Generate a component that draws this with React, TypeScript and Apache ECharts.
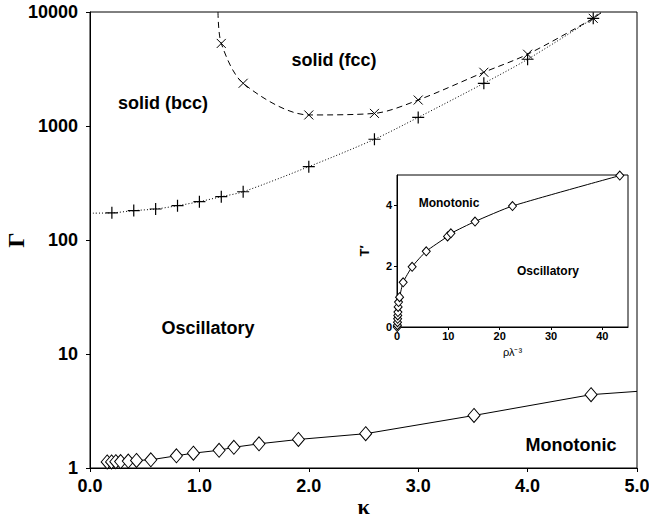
import React, { useEffect, useRef } from "react";
import * as echarts from "echarts";

// Melting line (fluid - solid), "+" markers
const meltKappa = [0.2, 0.4, 0.6, 0.8, 1.0, 1.2, 1.4, 2.0, 2.6, 3.0, 3.6, 4.0, 4.6];
const meltGamma = [173, 181, 187, 200, 217, 240, 265, 440, 765, 1190, 2370, 3850, 8800];
const meltStart = [0, 172];
const meltEnd = [4.68, 10000];

// bcc - fcc boundary, "x" markers
const fccKappa = [1.2, 1.4, 2.0, 2.6, 3.0, 3.6, 4.0, 4.6];
const fccGamma = [5300, 2370, 1250, 1290, 1690, 2960, 4260, 8800];
const fccStart = [1.17, 10000];
const fccEnd = [4.68, 10000];

// Monotonic / oscillatory crossover, diamonds
const monoKappa = [0.157, 0.197, 0.236, 0.28, 0.35, 0.425, 0.556, 0.79, 0.945, 1.18, 1.315, 1.545, 1.905, 2.52, 3.51, 4.58];
const monoGamma = [1.13, 1.13, 1.135, 1.14, 1.15, 1.165, 1.18, 1.28, 1.35, 1.43, 1.52, 1.63, 1.78, 2.0, 2.89, 4.4];
const monoEnd = [5.0, 4.7];

// Inset: T' vs rho*lambda^-3
const insetRho = [0.05, 0.08, 0.1, 0.12, 0.15, 0.18, 0.22, 0.3, 0.5, 1.2, 2.95, 5.7, 9.85, 10.5, 15.2, 22.5, 43.4];
const insetT = [0, 0.06, 0.16, 0.27, 0.38, 0.49, 0.66, 0.82, 0.98, 1.47, 1.98, 2.49, 2.98, 3.08, 3.47, 3.98, 4.98];

const xTickLabels = ["0.0", "1.0", "2.0", "3.0", "4.0", "5.0"];
const yTickLabels = ["1", "10", "100", "1000", "10000"];

const SANS = '"Liberation Sans", Arial, sans-serif';
const SERIF = '"Liberation Serif", "Times New Roman", serif';

const PLUS = "path://M0,5L10,5M5,0L5,10";
const CROSS = "path://M0,0L10,10M10,0L0,10";

export default function App() {
  const ref = useRef<HTMLDivElement>(null);

  useEffect(() => {
    if (!ref.current) return;
    const chart = echarts.init(ref.current, null, { renderer: "svg" });

    const meltData: any[] = [
      { value: meltStart, symbol: "none" },
      ...meltKappa.map((k, i) => [k, meltGamma[i]]),
      { value: meltEnd, symbol: "none" },
    ];
    const fccData: any[] = [
      { value: fccStart, symbol: "none" },
      ...fccKappa.map((k, i) => [k, fccGamma[i]]),
      { value: fccEnd, symbol: "none" },
    ];
    const monoData: any[] = [
      ...monoKappa.map((k, i) => [k, monoGamma[i]]),
      { value: monoEnd, symbol: "none" },
    ];
    const insetData = insetRho.map((r, i) => [r, insetT[i]]);

    const mainLabel = { fontFamily: SANS, fontWeight: "bold", fontSize: 18, color: "#000" };
    const insetLabel = { fontFamily: SANS, fontWeight: "bold", fontSize: 11, color: "#000" };
    const blackLine = { lineStyle: { color: "#000", width: 1 } };

    const regionText = (text: string, x: number, y: number, size: number) => ({
      type: "text",
      x,
      y,
      z: 100,
      style: {
        text,
        font: `bold ${size}px ${SANS}`,
        fill: "#000",
        align: "center",
        verticalAlign: "middle",
      },
    });

    chart.setOption({
      animation: false,
      backgroundColor: "#fff",
      grid: [
        {
          left: 90,
          right: 12,
          top: 12,
          bottom: 54,
          containLabel: false,
          outerBoundsMode: "none",
          show: true,
          borderColor: "#000",
          borderWidth: 1,
          backgroundColor: "transparent",
        },
        {
          left: 397,
          top: 175,
          width: 231,
          height: 152,
          containLabel: false,
          outerBoundsMode: "none",
          show: true,
          borderColor: "#000",
          borderWidth: 1,
          backgroundColor: "#fff",
          z: 5,
        },
      ],
      xAxis: [
        {
          gridIndex: 0,
          type: "value",
          min: 0,
          max: 5,
          interval: 1,
          name: "κ",
          nameLocation: "middle",
          nameGap: 27,
          nameMoveOverlap: false,
          nameTextStyle: { fontFamily: SERIF, fontWeight: "bold", fontSize: 22, color: "#000" },
          axisLine: blackLine,
          axisTick: { show: true, inside: false, length: 4, ...blackLine },
          axisLabel: {
            ...mainLabel,
            margin: 9,
            formatter: (v: number) => xTickLabels[Math.round(v)] ?? "",
          },
          splitLine: { show: false },
        },
        {
          gridIndex: 1,
          type: "value",
          min: 0,
          max: 45,
          interval: 10,
          name: "ρλ⁻³",
          nameLocation: "middle",
          nameGap: 19,
          nameMoveOverlap: false,
          nameTextStyle: { fontFamily: SANS, fontSize: 11, color: "#000" },
          axisLine: blackLine,
          axisTick: { show: true, length: 3, ...blackLine },
          axisLabel: { ...insetLabel, margin: 3, showMaxLabel: false },
          splitLine: { show: false },
          z: 6,
        },
      ],
      yAxis: [
        {
          gridIndex: 0,
          type: "log",
          logBase: 10,
          min: 1,
          max: 10000,
          name: "Γ",
          nameLocation: "middle",
          nameRotate: 90,
          nameGap: 62,
          nameMoveOverlap: false,
          nameTextStyle: { fontFamily: SERIF, fontWeight: "bold", fontSize: 24, color: "#000" },
          axisLine: blackLine,
          axisTick: { show: true, length: 4, ...blackLine },
          minorTick: { show: false },
          axisLabel: {
            ...mainLabel,
            margin: 12,
            formatter: (v: number) => {
              const e = Math.round(Math.log10(v));
              return yTickLabels[e] ?? "";
            },
          },
          splitLine: { show: false },
        },
        {
          gridIndex: 1,
          type: "value",
          min: 0,
          max: 5,
          interval: 2,
          name: "T′",
          nameLocation: "middle",
          nameRotate: 90,
          nameGap: 26,
          nameMoveOverlap: false,
          nameTextStyle: { fontFamily: SANS, fontWeight: "bold", fontSize: 13, color: "#000" },
          axisLine: blackLine,
          axisTick: { show: true, length: 3, ...blackLine },
          axisLabel: { ...insetLabel, margin: 5, showMaxLabel: false },
          splitLine: { show: false },
          z: 6,
        },
      ],
      series: [
        {
          name: "melting",
          type: "line",
          xAxisIndex: 0,
          yAxisIndex: 0,
          data: meltData,
          smooth: 0.3,
          symbol: PLUS,
          symbolSize: 12,
          lineStyle: { color: "#000", width: 1, type: [1, 2] },
          itemStyle: { color: "#000", borderColor: "#000", borderWidth: 1.2 },
        },
        {
          name: "bcc-fcc",
          type: "line",
          xAxisIndex: 0,
          yAxisIndex: 0,
          data: fccData,
          smooth: 0.3,
          symbol: CROSS,
          symbolSize: 9,
          lineStyle: { color: "#000", width: 1, type: [6, 4] },
          itemStyle: { color: "#000", borderColor: "#000", borderWidth: 1 },
        },
        {
          name: "crossover",
          type: "line",
          xAxisIndex: 0,
          yAxisIndex: 0,
          data: monoData,
          symbol: "diamond",
          symbolSize: [12, 14],
          lineStyle: { color: "#000", width: 1 },
          itemStyle: { color: "#fff", borderColor: "#000", borderWidth: 1 },
          z: 3,
        },
        {
          name: "inset",
          type: "line",
          xAxisIndex: 1,
          yAxisIndex: 1,
          data: insetData,
          smooth: 0.2,
          symbol: "diamond",
          symbolSize: [8, 9],
          lineStyle: { color: "#000", width: 1 },
          itemStyle: { color: "#fff", borderColor: "#000", borderWidth: 1 },
          z: 10,
        },
      ],
      graphic: [
        regionText("solid (fcc)", 334, 60, 18),
        regionText("solid (bcc)", 163, 103, 18),
        regionText("Oscillatory", 208, 328, 18),
        regionText("Monotonic", 571, 445, 18),
        regionText("Monotonic", 449, 203, 12),
        regionText("Oscillatory", 548, 271, 12),
      ],
    });

    return () => chart.dispose();
  }, []);

  return (
    <div
      ref={ref}
      style={{ position: "absolute", left: 0, top: 0, width: 649, height: 522 }}
    />
  );
}
